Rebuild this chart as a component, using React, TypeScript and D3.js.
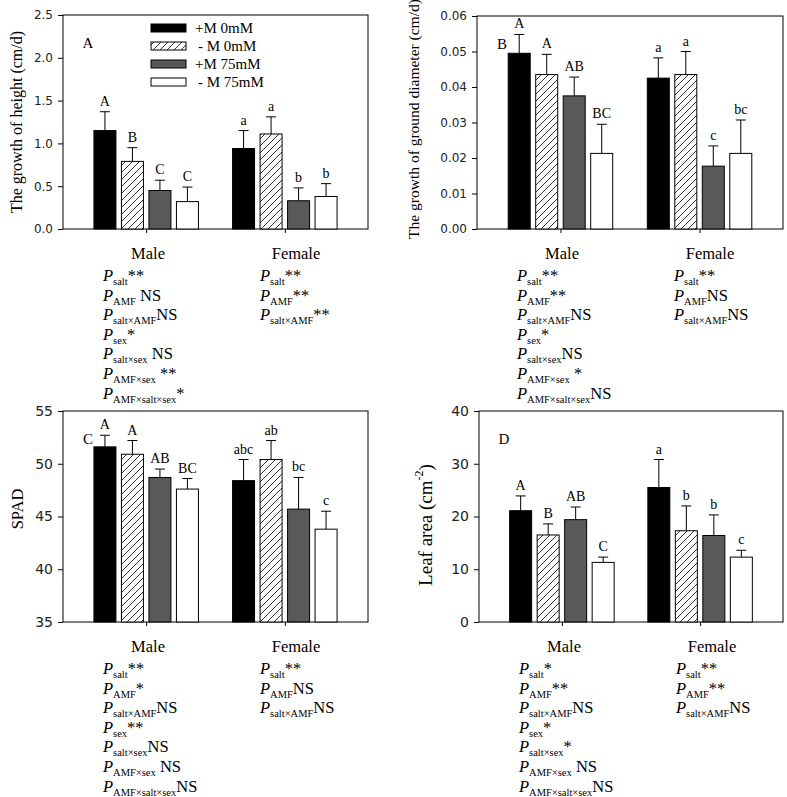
import React, { useEffect, useRef } from 'react';
import * as d3 from 'd3';

const sexes = ['Male', 'Female'];
const treatments = ['+M 0mM', '- M 0mM', '+M 75mM', '- M 75mM'];

// A: growth of height (cm/d)
const heightMean = [[1.15, 0.79, 0.45, 0.32], [0.94, 1.11, 0.33, 0.38]];
const heightSE = [[0.22, 0.16, 0.12, 0.17], [0.21, 0.2, 0.15, 0.15]];
const heightLetters = [['A', 'B', 'C', 'C'], ['a', 'a', 'b', 'b']];
const heightTicks = [0, 0.5, 1, 1.5, 2, 2.5];

// B: growth of ground diameter (cm/d)
const diamMean = [[0.0495, 0.0435, 0.0375, 0.0213], [0.0425, 0.0435, 0.0177, 0.0213]];
const diamSE = [[0.0053, 0.0057, 0.0053, 0.0082], [0.0057, 0.0065, 0.0057, 0.0094]];
const diamLetters = [['A', 'A', 'AB', 'BC'], ['a', 'a', 'c', 'bc']];
const diamTicks = [0, 0.01, 0.02, 0.03, 0.04, 0.05, 0.06];

// C: SPAD
const spadMean = [[51.6, 50.9, 48.7, 47.6], [48.4, 50.4, 45.7, 43.8]];
const spadSE = [[1.1, 1.3, 0.8, 1.0], [2.0, 1.8, 3.0, 1.7]];
const spadLetters = [['A', 'A', 'AB', 'BC'], ['abc', 'ab', 'bc', 'c']];
const spadTicks = [35, 40, 45, 50, 55];

// D: leaf area
const leafMean = [[21.1, 16.5, 19.4, 11.3], [25.5, 17.3, 16.4, 12.3]];
const leafSE = [[2.8, 2.1, 2.4, 1.0], [5.3, 4.7, 3.9, 1.3]];
const leafLetters = [['A', 'B', 'AB', 'C'], ['a', 'b', 'b', 'c']];
const leafTicks = [0, 10, 20, 30, 40];

// P-value lines: [subscript, result]
const heightStats = [
  [['salt', '**'], ['AMF', ' NS'], ['salt×AMF', 'NS'], ['sex', '*'], ['salt×sex', ' NS'], ['AMF×sex', ' **'], ['AMF×salt×sex', '*']],
  [['salt', '**'], ['AMF', '**'], ['salt×AMF', '**']],
];
const diamStats = [
  [['salt', '**'], ['AMF', '**'], ['salt×AMF', 'NS'], ['sex', '*'], ['salt×sex', 'NS'], ['AMF×sex', ' *'], ['AMF×salt×sex', 'NS']],
  [['salt', '**'], ['AMF', 'NS'], ['salt×AMF', 'NS']],
];
const spadStats = [
  [['salt', '**'], ['AMF', '*'], ['salt×AMF', 'NS'], ['sex', '**'], ['salt×sex', 'NS'], ['AMF×sex', ' NS'], ['AMF×salt×sex', 'NS']],
  [['salt', '**'], ['AMF', 'NS'], ['salt×AMF', 'NS']],
];
const leafStats = [
  [['salt', '*'], ['AMF', '**'], ['salt×AMF', 'NS'], ['sex', '*'], ['salt×sex', '*'], ['AMF×sex', ' NS'], ['AMF×salt×sex', 'NS']],
  [['salt', '**'], ['AMF', '**'], ['salt×AMF', 'NS']],
];

const fills = ['#000', 'url(#hatch)', '#595959', '#fff'];
const FONT = '"Liberation Serif", "Times New Roman", serif';
const SANS = '"DejaVu Sans", Verdana, sans-serif';

const App: React.FC = () => {
  const ref = useRef<SVGSVGElement>(null);

  useEffect(() => {
    if (!ref.current) return;
    const svg = d3.select(ref.current);
    svg.selectAll('*').remove();

    // motif hachuré
    const pat = svg.append('defs').append('pattern')
      .attr('id', 'hatch')
      .attr('patternUnits', 'userSpaceOnUse')
      .attr('width', 7)
      .attr('height', 7);
    pat.append('rect').attr('width', 7).attr('height', 7).attr('fill', '#fff');
    pat.append('path')
      .attr('d', 'M-1,1 l2,-2 M0,7 l7,-7 M6,8 l2,-2')
      .attr('stroke', '#000')
      .attr('stroke-width', 0.8);

    const panels = [
      { label: 'A', x0: 63, x1: 368, y0: 15, y1: 229, mean: heightMean, se: heightSE, letters: heightLetters, ticks: heightTicks, fmt: '.1f', tickFs: 12, title: 'The growth of height (cm/d)', tx: 16, ty: 122, tfs: 16, stats: heightStats, legend: true },
      { label: 'B', x0: 477, x1: 783, y0: 16, y1: 229, mean: diamMean, se: diamSE, letters: diamLetters, ticks: diamTicks, fmt: '.2f', tickFs: 12, title: 'The growth of ground diameter (cm/d)', tx: 413, ty: 119, tfs: 15.5, stats: diamStats, legend: false },
      { label: 'C', x0: 63, x1: 368, y0: 411, y1: 622, mean: spadMean, se: spadSE, letters: spadLetters, ticks: spadTicks, fmt: 'd', tickFs: 14, title: 'SPAD', tx: 17, ty: 509, tfs: 16.5, stats: spadStats, legend: false },
      { label: 'D', x0: 479, x1: 783, y0: 411, y1: 622, mean: leafMean, se: leafSE, letters: leafLetters, ticks: leafTicks, fmt: 'd', tickFs: 14, title: 'Leaf area (cm', tx: 425, ty: 525, tfs: 19, stats: leafStats, legend: false },
    ];

    panels.forEach(p => {
      const g = svg.append('g');
      const y = d3.scaleLinear()
        .domain([p.ticks[0], p.ticks[p.ticks.length - 1]])
        .range([p.y1, p.y0]);
      const xg = d3.scalePoint<string>().domain(sexes).range([p.x0, p.x1]).padding(0.6);
      const xs = d3.scaleBand<string>().domain(treatments).range([-55, 55]).paddingInner(0.2).paddingOuter(0.1);

      // cadre
      g.append('rect')
        .attr('x', p.x0).attr('y', p.y0)
        .attr('width', p.x1 - p.x0).attr('height', p.y1 - p.y0)
        .attr('fill', 'none').attr('stroke', '#000').attr('stroke-width', 1);

      // axe Y
      const ya = g.append('g')
        .attr('transform', `translate(${p.x0},0)`)
        .call(d3.axisLeft(y).tickValues(p.ticks).tickFormat(d3.format(p.fmt) as any).tickSize(5).tickSizeOuter(0).tickPadding(5));
      ya.select('.domain').remove();
      ya.selectAll('text').style('font-family', SANS).style('font-size', `${p.tickFs}px`).attr('fill', '#222');

      // axe X (tiques seulement)
      const xa = g.append('g')
        .attr('transform', `translate(0,${p.y1})`)
        .call(d3.axisBottom(xg).tickSize(4).tickFormat(() => ''));
      xa.select('.domain').remove();

      // titre Y
      const t = g.append('text')
        .attr('transform', `translate(${p.tx},${p.ty}) rotate(-90)`)
        .attr('text-anchor', 'middle')
        .attr('dominant-baseline', 'central')
        .style('font-size', `${p.tfs}px`)
        .text(p.title);
      if (p.label === 'D') {
        t.append('tspan').attr('dy', -6).style('font-size', '12px').text('-2');
        t.append('tspan').attr('dy', 6).text(')');
      }

      // lettre du panneau
      g.append('text')
        .attr('x', p.x0 + 25).attr('y', (p.y0 + 33))
        .attr('text-anchor', 'middle')
        .style('font-size', '15px')
        .text(p.label);

      // barres
      sexes.forEach((s, gi) => {
        treatments.forEach((tr, i) => {
          const m = p.mean[gi][i];
          const e = p.se[gi][i];
          const bx = xg(s)! + xs(tr)!;
          const cx = bx + xs.bandwidth() / 2;
          g.append('line')
            .attr('x1', cx).attr('x2', cx)
            .attr('y1', y(m)).attr('y2', y(m + e))
            .attr('stroke', '#000');
          g.append('line')
            .attr('x1', cx - 5).attr('x2', cx + 5)
            .attr('y1', y(m + e)).attr('y2', y(m + e))
            .attr('stroke', '#000');
          g.append('rect')
            .attr('x', bx).attr('y', y(m))
            .attr('width', xs.bandwidth()).attr('height', p.y1 - y(m))
            .attr('fill', fills[i]).attr('stroke', '#000').attr('stroke-width', 1);
          g.append('text')
            .attr('x', cx).attr('y', y(m + e) - 6)
            .attr('text-anchor', 'middle')
            .style('font-size', '14px')
            .text(p.letters[gi][i]);
        });
      });

      // légende
      if (p.legend) {
        treatments.forEach((tr, i) => {
          const cy = 28 + i * 18;
          g.append('rect')
            .attr('x', 151).attr('y', cy - 4)
            .attr('width', 35).attr('height', 8)
            .attr('fill', fills[i]).attr('stroke', '#000');
          g.append('text')
            .attr('x', tr.startsWith('-') ? 198 : 195).attr('y', cy + 5)
            .style('font-size', '15px')
            .text(tr);
        });
      }

      // annotations Male / Female + P
      const labelDx = [85, 233];
      const pDx = [40, 197];
      sexes.forEach((s, gi) => {
        g.append('text')
          .attr('x', p.x0 + labelDx[gi]).attr('y', p.y1 + 30)
          .attr('text-anchor', 'middle')
          .style('font-size', '16.5px')
          .text(s);
        p.stats[gi].forEach((st, k) => {
          const tx = g.append('text')
            .attr('x', p.x0 + pDx[gi]).attr('y', p.y1 + 52 + k * 19.6)
            .style('font-size', '16.5px');
          tx.append('tspan').style('font-style', 'italic').text('P');
          tx.append('tspan').attr('dy', 4).style('font-size', '10.5px').text(st[0]);
          tx.append('tspan').attr('dy', -4).style('white-space', 'pre').text(st[1]);
        });
      });
    });
  }, []);

  return (
    <svg
      ref={ref}
      width={787}
      height={797}
      style={{ position: 'absolute', left: 0, top: 0, background: '#fff', fontFamily: FONT }}
    />
  );
};

export default App;
